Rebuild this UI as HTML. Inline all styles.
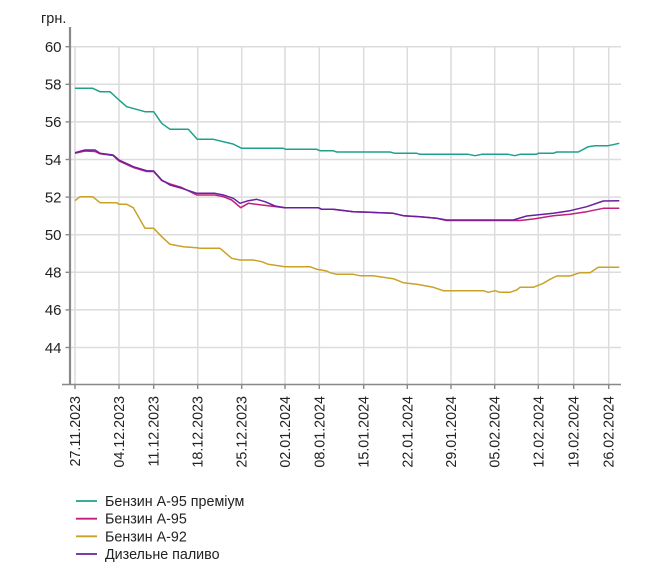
<!DOCTYPE html>
<html>
<head>
<meta charset="utf-8">
<style>
html,body{margin:0;padding:0;background:#fff;}
svg{display:block;}
text{font-family:"Liberation Sans", Arial, sans-serif;fill:#222;}
</style>
</head>
<body>
<svg width="649" height="572" viewBox="0 0 649 572" xmlns="http://www.w3.org/2000/svg">
<!-- horizontal grid -->
<g stroke="#dcdcdc" stroke-width="1.5">
<line x1="71" y1="46.7" x2="621" y2="46.7"/>
<line x1="71" y1="84.3" x2="621" y2="84.3"/>
<line x1="71" y1="121.9" x2="621" y2="121.9"/>
<line x1="71" y1="159.5" x2="621" y2="159.5"/>
<line x1="71" y1="197.1" x2="621" y2="197.1"/>
<line x1="71" y1="234.7" x2="621" y2="234.7"/>
<line x1="71" y1="272.3" x2="621" y2="272.3"/>
<line x1="71" y1="309.9" x2="621" y2="309.9"/>
<line x1="71" y1="347.5" x2="621" y2="347.5"/>
</g>
<!-- vertical grid -->
<g stroke="#dcdcdc" stroke-width="1.5">
<line x1="75" y1="46.7" x2="75" y2="384"/>
<line x1="119" y1="46.7" x2="119" y2="384"/>
<line x1="153.7" y1="46.7" x2="153.7" y2="384"/>
<line x1="197.7" y1="46.7" x2="197.7" y2="384"/>
<line x1="241.7" y1="46.7" x2="241.7" y2="384"/>
<line x1="285" y1="46.7" x2="285" y2="384"/>
<line x1="319.3" y1="46.7" x2="319.3" y2="384"/>
<line x1="363.7" y1="46.7" x2="363.7" y2="384"/>
<line x1="407.3" y1="46.7" x2="407.3" y2="384"/>
<line x1="451" y1="46.7" x2="451" y2="384"/>
<line x1="494.7" y1="46.7" x2="494.7" y2="384"/>
<line x1="538.3" y1="46.7" x2="538.3" y2="384"/>
<line x1="573.7" y1="46.7" x2="573.7" y2="384"/>
<line x1="608.7" y1="46.7" x2="608.7" y2="384"/>
</g>
<!-- axes -->
<line x1="70" y1="27" x2="70" y2="385" stroke="#888" stroke-width="2.2"/>
<line x1="62" y1="384.5" x2="621" y2="384.5" stroke="#888" stroke-width="1.6"/>
<g stroke="#888" stroke-width="1.4">
<line x1="65.5" y1="46.7" x2="70" y2="46.7"/>
<line x1="65.5" y1="84.3" x2="70" y2="84.3"/>
<line x1="65.5" y1="121.9" x2="70" y2="121.9"/>
<line x1="65.5" y1="159.5" x2="70" y2="159.5"/>
<line x1="65.5" y1="197.1" x2="70" y2="197.1"/>
<line x1="65.5" y1="234.7" x2="70" y2="234.7"/>
<line x1="65.5" y1="272.3" x2="70" y2="272.3"/>
<line x1="65.5" y1="309.9" x2="70" y2="309.9"/>
<line x1="65.5" y1="347.5" x2="70" y2="347.5"/>
<line x1="75" y1="384" x2="75" y2="389"/>
<line x1="119" y1="384" x2="119" y2="389"/>
<line x1="153.7" y1="384" x2="153.7" y2="389"/>
<line x1="197.7" y1="384" x2="197.7" y2="389"/>
<line x1="241.7" y1="384" x2="241.7" y2="389"/>
<line x1="285" y1="384" x2="285" y2="389"/>
<line x1="319.3" y1="384" x2="319.3" y2="389"/>
<line x1="363.7" y1="384" x2="363.7" y2="389"/>
<line x1="407.3" y1="384" x2="407.3" y2="389"/>
<line x1="451" y1="384" x2="451" y2="389"/>
<line x1="494.7" y1="384" x2="494.7" y2="389"/>
<line x1="538.3" y1="384" x2="538.3" y2="389"/>
<line x1="573.7" y1="384" x2="573.7" y2="389"/>
<line x1="608.7" y1="384" x2="608.7" y2="389"/>
</g>
<!-- y labels -->
<g font-size="15" text-anchor="end">
<text x="61.5" y="52">60</text>
<text x="61.5" y="89.6">58</text>
<text x="61.5" y="127.2">56</text>
<text x="61.5" y="164.8">54</text>
<text x="61.5" y="202.4">52</text>
<text x="61.5" y="240">50</text>
<text x="61.5" y="277.6">48</text>
<text x="61.5" y="315.2">46</text>
<text x="61.5" y="352.8">44</text>
</g>
<text x="41" y="23" font-size="14.5">грн.</text>
<!-- x labels -->
<g font-size="14.3" text-anchor="end">
<text transform="translate(80,396) rotate(-90)">27.11.2023</text>
<text transform="translate(124,396) rotate(-90)">04.12.2023</text>
<text transform="translate(158.7,396) rotate(-90)">11.12.2023</text>
<text transform="translate(202.7,396) rotate(-90)">18.12.2023</text>
<text transform="translate(246.7,396) rotate(-90)">25.12.2023</text>
<text transform="translate(290,396) rotate(-90)">02.01.2024</text>
<text transform="translate(324.3,396) rotate(-90)">08.01.2024</text>
<text transform="translate(368.7,396) rotate(-90)">15.01.2024</text>
<text transform="translate(412.3,396) rotate(-90)">22.01.2024</text>
<text transform="translate(456,396) rotate(-90)">29.01.2024</text>
<text transform="translate(499.7,396) rotate(-90)">05.02.2024</text>
<text transform="translate(543.3,396) rotate(-90)">12.02.2024</text>
<text transform="translate(578.7,396) rotate(-90)">19.02.2024</text>
<text transform="translate(613.7,396) rotate(-90)">26.02.2024</text>
</g>
<!-- series -->
<g fill="none" stroke-width="1.5" stroke-linejoin="round">
<polyline stroke="#1fa08a" points="75,88.3 92.7,88.3 100,91.7 110,91.7 119,100 126.7,106.7 145,111.7 153.7,111.7 161.7,123.3 170,129.3 188.3,129.3 197.3,139.3 213.3,139.3 233,144 241.7,148.3 283,148.3 286,149.3 316.7,149.3 320,150.7 333,150.7 336.7,152 390,152 395,153.3 416.7,153.3 420,154.3 468.3,154.3 475,155.7 481.7,154.3 508.3,154.3 515,155.7 520,154.3 536.7,154.3 538.3,153.3 553.3,153.3 556.7,152 578.3,152 588.3,146.7 595,145.7 608.3,145.7 619.3,143.3"/>
<polyline stroke="#c0207a" points="75,153.3 85,151 95,151.5 100,153.8 113,155.5 119,161 133.3,167.5 146.7,171.5 153.7,171.5 161.7,180.5 170,184 181.7,187.5 196.7,195 215,195 223.3,196.7 231.7,200 240.7,207.7 248.3,203.3 261.7,205 276.7,206.7 285,207.7 318.3,207.7 321.7,209.3 333,209.3 353.3,211.7 370,212.3 393.3,213.3 403.3,215.7 420,216.7 436.7,218.3 446.7,220.5 520,220.5 533.3,219 553.3,215.7 570,214.3 586.7,211.7 603.3,208.3 619.3,208.3"/>
<polyline stroke="#c9a227" points="75,200.7 80,196.7 92.7,196.7 100,202.7 116.7,202.7 119,204.3 126.7,204.3 133.3,207.7 145,228.3 153.7,228.3 161.7,236.7 170,244.3 183.3,246.7 196.7,247.7 200,248.3 220,248.3 231.7,258.3 240,260 253.3,260 261.7,261.7 268.3,264.3 280,266 285,266.7 310,266.7 316.7,269.3 326.7,271 330,272.7 336.7,274.3 353.3,274.3 360,275.7 373.3,275.7 383.3,277.3 393.3,278.7 403.3,282.7 416.7,284.3 433.3,287.3 443.3,290.7 483.3,290.7 488.3,292.3 495,290.7 500,292.3 510,292.3 516.7,290 520,287.3 533.3,287.3 543.3,283.3 550,279.3 556.7,276 570,276 580,272.7 590,272.7 598.3,267.3 619.3,267.3"/>
<polyline stroke="#6a1fa0" points="75,152.7 85,150 95,150 100,153.3 113,155 119,160 133.3,166.7 146.7,170.7 153.7,171 161.7,180 170,185 181.7,188.3 196.7,193.3 215,193.3 223.3,195 233.3,198.3 240,203.3 248.3,200.7 256.7,199.3 265,201.7 275,206 285,207.7 318.3,207.7 321.7,209.3 333,209.3 353.3,211.7 370,212.3 393.3,213.3 403.3,215.7 420,216.7 436.7,218.3 446.7,220 513.3,220 526.7,216 553.3,213.3 570,210.7 586.7,206.7 603.3,201 619.3,200.7"/>
</g>
<!-- legend -->
<g stroke-width="1.8">
<line x1="76" y1="501" x2="97" y2="501" stroke="#1fa08a"/>
<line x1="76" y1="518.7" x2="97" y2="518.7" stroke="#c0207a"/>
<line x1="76" y1="536.3" x2="97" y2="536.3" stroke="#c9a227"/>
<line x1="76" y1="554" x2="97" y2="554" stroke="#6a1fa0"/>
</g>
<g font-size="14.3">
<text x="105" y="506">Бензин А-95 преміум</text>
<text x="105" y="523.7">Бензин А-95</text>
<text x="105" y="541.3">Бензин А-92</text>
<text x="105" y="559">Дизельне паливо</text>
</g>
</svg>
</body>
</html>
